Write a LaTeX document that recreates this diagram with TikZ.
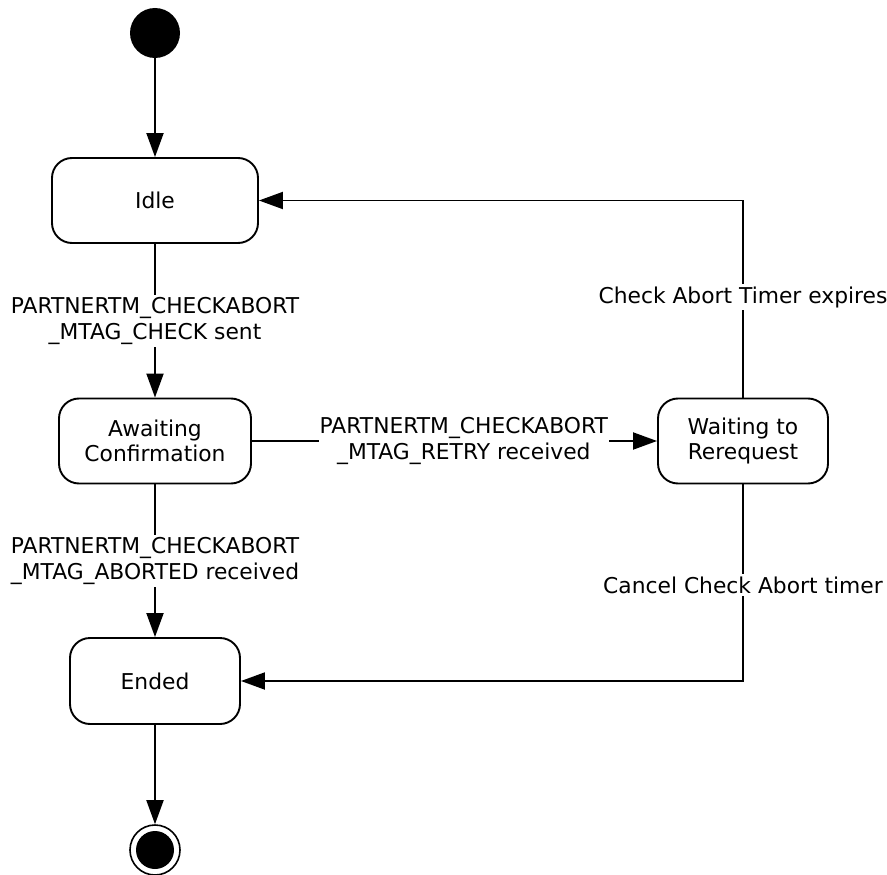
\documentclass[tikz,border=0pt]{standalone}
\usepackage{fontspec}
\setmainfont{DejaVu Sans}
\usetikzlibrary{arrows.meta}
\begin{document}
\begin{tikzpicture}[x=1pt,y=-1pt,
  font=\fontsize{21.8}{25.5}\selectfont,
  state/.style={draw, line width=1.9pt, rounded corners=20pt, align=center, inner sep=0pt, minimum height=85pt},
  arr/.style={line width=1.9pt, -{Triangle[length=24pt,width=17pt]}},
  lbl/.style={fill=white, align=center, inner xsep=1pt, inner ysep=2.5pt},
]
\path[use as bounding box] (0,0) rectangle (887,875);

\node[circle, fill=black, minimum size=50pt, inner sep=0pt] (start) at (155,33) {};
\node[state, minimum width=206pt] (idle) at (155,200.5) {Idle};
\node[state, minimum width=192pt] (await) at (155,441) {Awaiting\\Confirmation};
\node[state, minimum width=170pt, minimum height=86pt] (ended) at (155,681) {Ended};
\node[state, minimum width=170pt] (wait) at (743,441) {Waiting to\\Rerequest};
\node[circle, draw, line width=1.6pt, minimum size=50pt, inner sep=0pt] (end) at (155,850) {};
\fill (end.center) circle (19pt);

\draw[arr] (start) -- (idle);
\draw[arr] (idle) -- (await) node[lbl, midway] {PARTNERTM\_CHECKABORT\\\_MTAG\_CHECK sent};
\draw[arr] (await) -- (ended) node[lbl, midway] {PARTNERTM\_CHECKABORT\\\_MTAG\_ABORTED received};
\draw[arr] (await) -- (wait) node[lbl, pos=0.523] {PARTNERTM\_CHECKABORT\\\_MTAG\_RETRY received};
\draw[arr] (wait.north) |- (idle.east) node[lbl, pos=0.255] {Check Abort Timer expires};
\draw[arr] (wait.south) |- (ended.east) node[lbl, pos=0.256] {Cancel Check Abort timer};
\draw[arr] (ended) -- (end);
\end{tikzpicture}
\end{document}
